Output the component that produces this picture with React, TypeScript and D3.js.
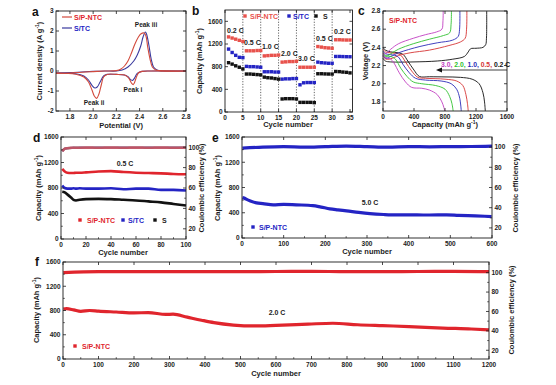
import React from 'react';
import * as d3 from 'd3';

// ---------- DATA ----------
// Panel a: CV curves [potential V, current A/g]
const cvNtcCathodic: [number, number][] = [[2.8,0],[2.5,0],[2.42,-0.02],[2.39,-0.1],[2.37,-0.35],[2.355,-0.6],[2.345,-0.68],[2.33,-0.6],[2.31,-0.38],[2.28,-0.22],[2.2,-0.17],[2.12,-0.17],[2.09,-0.3],[2.07,-0.7],[2.05,-1.15],[2.03,-1.37],[2.01,-1.25],[1.99,-0.95],[1.96,-0.55],[1.92,-0.3],[1.85,-0.16],[1.68,-0.1]];
const cvNtcAnodic: [number, number][] = [[1.68,-0.12],[1.8,-0.1],[1.9,-0.06],[2.0,-0.03],[2.1,0],[2.2,0.02],[2.24,0.1],[2.27,0.25],[2.3,0.5],[2.33,0.9],[2.36,1.35],[2.39,1.7],[2.41,1.85],[2.44,1.9],[2.455,1.75],[2.47,1.2],[2.49,0.6],[2.51,0.2],[2.54,0.05],[2.6,0],[2.8,0]];
const cvTcCathodic: [number, number][] = [[2.8,0],[2.5,0],[2.42,-0.02],[2.38,-0.12],[2.36,-0.32],[2.34,-0.47],[2.32,-0.42],[2.3,-0.28],[2.27,-0.2],[2.2,-0.17],[2.12,-0.17],[2.09,-0.25],[2.06,-0.55],[2.035,-0.8],[2.015,-0.85],[1.99,-0.72],[1.96,-0.45],[1.92,-0.25],[1.85,-0.14],[1.68,-0.1]];
const cvTcAnodic: [number, number][] = [[1.68,-0.1],[1.8,-0.08],[1.9,-0.05],[2.0,-0.02],[2.1,0],[2.2,0],[2.25,0.05],[2.3,0.2],[2.35,0.5],[2.38,0.8],[2.41,1.25],[2.43,1.7],[2.45,1.95],[2.46,1.85],[2.48,1.3],[2.5,0.6],[2.52,0.2],[2.55,0.05],[2.6,0],[2.8,0]];

// Panel b: rate capability, cycles 1..35
const bNtc = [1325,1305,1285,1265,1245, 1080,1080,1080,1085,1085, 990,995,1000,1000,1005, 880,885,890,890,895, 790,790,790,790,790, 1155,1145,1135,1130,1125, 1275,1275,1272,1270,1270];
const bTc = [1110,1050,1000,965,960, 805,800,800,795,790, 710,710,710,705,705, 580,585,585,590,590, 480,515,520,520,520, 880,870,865,860,860, 980,980,978,976,975];
const bS = [870,845,815,790,760, 670,670,665,660,655, 615,605,600,590,580, 230,235,235,235,230, 170,170,170,170,165, 675,675,672,670,670, 715,712,705,700,690];
const bRates = ['0.2 C','0.5 C','1.0 C','2.0 C','3.0 C','0.5 C','0.2 C'];

// Panel c: galvanostatic profiles [capacity, voltage]
const cDis02: [number, number][] = [[0,2.4],[30,2.37],[100,2.35],[200,2.34],[262,2.32],[320,2.25],[400,2.15],[470,2.08],[600,2.077],[800,2.075],[1000,2.07],[1150,2.05],[1240,2.0],[1290,1.9],[1310,1.8],[1320,1.7]];
const cDis05: [number, number][] = [[0,2.38],[30,2.35],[100,2.34],[220,2.32],[290,2.24],[370,2.14],[450,2.07],[550,2.06],[800,2.05],[950,2.03],[1030,1.98],[1070,1.88],[1090,1.78],[1100,1.7]];
const cDis10: [number, number][] = [[0,2.36],[30,2.33],[100,2.32],[190,2.3],[260,2.21],[340,2.12],[420,2.06],[550,2.04],[750,2.03],[880,2.0],[950,1.94],[990,1.84],[1010,1.7]];
const cDis20: [number, number][] = [[0,2.34],[30,2.31],[100,2.3],[160,2.27],[230,2.17],[310,2.08],[390,2.02],[500,2.0],[680,1.98],[800,1.94],[860,1.86],[890,1.78],[905,1.7]];
const cDis30: [number, number][] = [[0,2.33],[30,2.29],[100,2.27],[140,2.23],[210,2.12],[290,2.02],[370,1.96],[500,1.95],[600,1.93],[700,1.88],[760,1.8],[785,1.74],[798,1.7]];
const cChg02: [number, number][] = [[0,2.28],[30,2.25],[100,2.24],[400,2.24],[700,2.25],[900,2.27],[1050,2.3],[1100,2.35],[1130,2.385],[1200,2.39],[1290,2.4],[1325,2.43],[1335,2.5],[1338,2.8]];
const cChg05: [number, number][] = [[0,2.3],[40,2.27],[120,2.28],[200,2.31],[350,2.34],[600,2.37],[850,2.42],[1000,2.46],[1060,2.5],[1078,2.6],[1082,2.8]];
const cChg10: [number, number][] = [[0,2.31],[40,2.28],[100,2.3],[200,2.34],[477,2.41],[700,2.45],[900,2.48],[970,2.52],[988,2.6],[992,2.8]];
const cChg20: [number, number][] = [[0,2.32],[40,2.3],[100,2.33],[200,2.38],[391,2.44],[600,2.49],[780,2.53],[860,2.56],[878,2.65],[883,2.8]];
const cChg30: [number, number][] = [[0,2.34],[30,2.33],[100,2.38],[200,2.44],[391,2.5],[550,2.54],[692,2.57],[760,2.6],[773,2.68],[777,2.8]];

// Panel d: 0.5 C cycling
const dCycles = [1, 3, 5, 8, 10, 12, 15, 20, 30, 40, 50, 60, 70, 80, 90, 100];
const dNtc = [1100, 1060, 1040, 1035, 1035, 1040, 1040, 1045, 1060, 1065, 1050, 1040, 1035, 1030, 1020, 1015];
const dTc = [840, 800, 790, 790, 795, 790, 795, 790, 790, 795, 780, 790, 790, 770, 770, 760];
const dS = [740, 730, 700, 650, 615, 605, 615, 625, 630, 625, 615, 605, 590, 575, 550, 525];
const dCE = [96, 98.5, 99, 99.3, 99.5, 99.4, 99.5, 99.6, 99.5, 99.6, 99.5, 99.6, 99.5, 99.6, 99.5, 99.6];

// Panel e: 5.0 C cycling
const eCycles = [1, 5, 10, 20, 35, 50, 75, 100, 130, 170, 190, 211, 230, 251, 280, 307, 340, 371, 420, 450, 491, 520, 560, 599];
const eCap = [640, 632, 615, 586, 556, 545, 525, 534, 526, 514, 490, 462, 446, 430, 405, 386, 372, 365, 365, 364, 366, 358, 350, 340];
const eCECycles = [1, 50, 100, 150, 200, 250, 300, 350, 400, 450, 500, 550, 600];
const eCE = [99, 100, 100.5, 100, 100.5, 101, 100.5, 100, 100.5, 100.3, 100.5, 100.6, 101];

// Panel f: 2.0 C cycling
const fCycles = [1, 10, 30, 50, 75, 100, 150, 200, 240, 290, 310, 350, 390, 425, 480, 540, 600, 690, 760, 830, 900, 975, 1070, 1150, 1200];
const fCap = [825, 830, 810, 785, 800, 790, 775, 760, 765, 735, 740, 690, 640, 600, 560, 545, 555, 575, 590, 565, 550, 535, 510, 495, 480];
const fCECycles = [1, 100, 200, 300, 400, 500, 600, 700, 800, 900, 1000, 1100, 1200];
const fCE = [100, 101, 101, 101, 101, 101, 101.2, 101.4, 101, 101, 101.2, 101.3, 101];

// ---------- STYLE ----------
const FONT = '"Liberation Sans", Arial, Helvetica, sans-serif';
const INK = '#1c1c1c';
const RED = '#e0252d';
const BLUE = '#2424c4';
const BLACK = '#121212';
const CV_RED = '#d24a3c';
const CV_BLUE = '#3a3a9e';
const C_RED = '#d63434';
const C_BLUE = '#2b2bb8';
const C_GREEN = '#2fc12f';
const C_MAG = '#c23ec2';

type Scale = d3.ScaleLinear<number, number>;

function Box({ xs, ys }: { xs: Scale; ys: Scale }) {
  const [x0, x1] = xs.range();
  const [y0, y1] = ys.range();
  return <rect x={x0} y={Math.min(y0, y1)} width={x1 - x0} height={Math.abs(y0 - y1)} fill="none" stroke={INK} strokeWidth={0.9} />;
}

function XAxis({ xs, ys, ticks, minor = [], fmt = (v: number) => String(v), top = true }: { xs: Scale; ys: Scale; ticks: number[]; minor?: number[]; fmt?: (v: number) => string; top?: boolean }) {
  const yb = ys.range()[0];
  const yt = ys.range()[1];
  return (
    <g>
      {ticks.map((t, i) => (
        <g key={'t' + i}>
          <line x1={xs(t)} x2={xs(t)} y1={yb} y2={yb - 3} stroke={INK} strokeWidth={0.8} />
          {top && <line x1={xs(t)} x2={xs(t)} y1={yt} y2={yt + 3} stroke={INK} strokeWidth={0.8} />}
          <text x={xs(t)} y={yb + 8} fontSize={6.5} fontWeight="bold" textAnchor="middle" fill={INK} fontFamily={FONT}>{fmt(t)}</text>
        </g>
      ))}
      {minor.map((t, i) => (
        <line key={'m' + i} x1={xs(t)} x2={xs(t)} y1={yb} y2={yb - 1.8} stroke={INK} strokeWidth={0.7} />
      ))}
    </g>
  );
}

function YAxis({ xs, ys, ticks, minor = [], fmt = (v: number) => String(v), side = 'left', mirror = true }: { xs: Scale; ys: Scale; ticks: number[]; minor?: number[]; fmt?: (v: number) => string; side?: 'left' | 'right'; mirror?: boolean }) {
  const xl = xs.range()[0];
  const xr = xs.range()[1];
  const xa = side === 'left' ? xl : xr;
  const dir = side === 'left' ? 1 : -1;
  return (
    <g>
      {ticks.map((t, i) => (
        <g key={'t' + i}>
          <line x1={xa} x2={xa + dir * 3} y1={ys(t)} y2={ys(t)} stroke={INK} strokeWidth={0.8} />
          {mirror && <line x1={xr} x2={xr - 3} y1={ys(t)} y2={ys(t)} stroke={INK} strokeWidth={0.8} />}
          <text x={xa - dir * 2.5} y={ys(t) + 2.3} fontSize={6.5} fontWeight="bold" textAnchor={side === 'left' ? 'end' : 'start'} fill={INK} fontFamily={FONT}>{fmt(t)}</text>
        </g>
      ))}
      {minor.map((t, i) => (
        <line key={'m' + i} x1={xa} x2={xa + dir * 1.8} y1={ys(t)} y2={ys(t)} stroke={INK} strokeWidth={0.7} />
      ))}
    </g>
  );
}

function T({ x, y, children, size = 7.5, anchor = 'middle', rot = 0, fill = INK }: any) {
  return (
    <text transform={`translate(${x},${y}) rotate(${rot})`} fontSize={size} fontWeight="bold" textAnchor={anchor} fill={fill} fontFamily={FONT}>{children}</text>
  );
}

function CapTitle({ x, y, rot = -90 }: { x: number; y: number; rot?: number }) {
  return (
    <T x={x} y={y} rot={rot}>
      Capacity (mAh g<tspan dy={-3} fontSize={5}>-1</tspan><tspan dy={3}>)</tspan>
    </T>
  );
}

function Letter({ x, y, c }: { x: number; y: number; c: string }) {
  return <text x={x} y={y} fontSize={12} fontWeight="bold" fill="#111" fontFamily={FONT}>{c}</text>;
}

function Square({ x, y, fill, s = 3.4 }: { x: number; y: number; fill: string; s?: number }) {
  return <rect x={x - s / 2} y={y - s / 2} width={s} height={s} fill={fill} />;
}

const range = (a: number, b: number, s: number) => d3.range(a, b + s / 2, s);

export default function App() {
  // Panel a
  const ax = d3.scaleLinear().domain([1.68, 2.8]).range([56, 186]);
  const ay = d3.scaleLinear().domain([-2, 3]).range([111, 11]);
  const cvLine = d3.line<[number, number]>().x(d => ax(d[0])).y(d => ay(d[1])).curve(d3.curveCatmullRom.alpha(0.5));

  // Panel b
  const bx = d3.scaleLinear().domain([0, 35.7]).range([225, 352.5]);
  const by = d3.scaleLinear().domain([0, 1800]).range([112, 10]);

  // Panel c
  const cx = d3.scaleLinear().domain([0, 1600]).range([383, 507]);
  const cy = d3.scaleLinear().domain([1.7, 2.8]).range([111, 11]);
  const cLine = d3.line<[number, number]>().x(d => cx(d[0])).y(d => cy(d[1])).curve(d3.curveCatmullRom.alpha(0.5));
  const cCurves: [[number, number][], [number, number][], string][] = [
    [cDis02, cChg02, BLACK], [cDis05, cChg05, C_RED], [cDis10, cChg10, C_BLUE], [cDis20, cChg20, C_GREEN], [cDis30, cChg30, C_MAG],
  ];

  // Panel d
  const dx = d3.scaleLinear().domain([0, 100]).range([61, 186]);
  const dy = d3.scaleLinear().domain([0, 1600]).range([239, 137]);
  const dyR = d3.scaleLinear().domain([10, 110]).range([239, 137]);
  const dLine = (ys: number[], yscale: Scale) => d3.line<number>().x((_, i) => dx(dCycles[i])).y(v => yscale(v)).curve(d3.curveMonotoneX)(ys) || '';

  // Panel e
  const ex = d3.scaleLinear().domain([0, 600]).range([242, 492]);
  const ey = d3.scaleLinear().domain([0, 1600]).range([238, 137]);
  const eyR = d3.scaleLinear().domain([10, 110]).range([238, 137]);
  const eCapPath = d3.line<number>().x((_, i) => ex(eCycles[i])).y(v => ey(v)).curve(d3.curveMonotoneX)(eCap) || '';
  const eCEPath = d3.line<number>().x((_, i) => ex(eCECycles[i])).y(v => eyR(v)).curve(d3.curveMonotoneX)(eCE) || '';

  // Panel f
  const fx = d3.scaleLinear().domain([0, 1200]).range([63, 489]);
  const fy = d3.scaleLinear().domain([0, 1600]).range([359, 262]);
  const fyR = d3.scaleLinear().domain([11, 111]).range([359, 262]);
  const fCapPath = d3.line<number>().x((_, i) => fx(fCycles[i])).y(v => fy(v)).curve(d3.curveMonotoneX)(fCap) || '';
  const fCEPath = d3.line<number>().x((_, i) => fx(fCECycles[i])).y(v => fyR(v)).curve(d3.curveMonotoneX)(fCE) || '';

  const rateLabelPos: [number, number][] = [[227, 33], [244, 45], [262, 49], [281, 56], [298, 61], [316, 41], [334, 34]];

  return (
    <svg width={556} height={385} viewBox="0 0 556 385" style={{ position: 'absolute', left: 0, top: 0, background: '#fff' }} fontFamily={FONT}>
      <rect width={556} height={385} fill="#fff" />

      {/* ---------- a ---------- */}
      <Letter x={32} y={16} c="a" />
      <path d={cvLine(cvTcCathodic) || ''} fill="none" stroke={CV_BLUE} strokeWidth={1.1} />
      <path d={cvLine(cvTcAnodic) || ''} fill="none" stroke={CV_BLUE} strokeWidth={1.1} />
      <path d={cvLine(cvNtcCathodic) || ''} fill="none" stroke={CV_RED} strokeWidth={1.1} />
      <path d={cvLine(cvNtcAnodic) || ''} fill="none" stroke={CV_RED} strokeWidth={1.1} />
      <Box xs={ax} ys={ay} />
      <XAxis xs={ax} ys={ay} ticks={range(1.8, 2.8, 0.2)} fmt={v => v.toFixed(1)} />
      <YAxis xs={ax} ys={ay} ticks={range(-2, 3, 1)} />
      <line x1={62} x2={72} y1={17} y2={17} stroke={CV_RED} strokeWidth={1.2} />
      <T x={74} y={19.5} size={7} anchor="start" fill={RED}>S/P-NTC</T>
      <line x1={62} x2={72} y1={28} y2={28} stroke={CV_BLUE} strokeWidth={1.2} />
      <T x={74} y={30.5} size={7} anchor="start" fill={BLUE}>S/TC</T>
      <T x={146} y={27} size={6.5}>Peak iii</T>
      <T x={133} y={92} size={6.5}>Peak i</T>
      <T x={94} y={105} size={6.5}>Peak ii</T>
      <T x={121} y={128}>Potential (V)</T>
      <T x={42} y={61} rot={-90}>Current density (A g<tspan dy={-3} fontSize={5}>-1</tspan><tspan dy={3}>)</tspan></T>

      {/* ---------- b ---------- */}
      <Letter x={192} y={15} c="b" />
      {range(5, 30, 5).map(v => (
        <line key={v} x1={bx(v)} x2={bx(v)} y1={by(0)} y2={by(1800)} stroke="#222" strokeWidth={0.7} strokeDasharray="1.2,1.5" />
      ))}
      {bNtc.map((v, i) => <Square key={'bn' + i} x={bx(i + 1)} y={by(v)} fill="#e8524c" />)}
      {bTc.map((v, i) => <Square key={'bt' + i} x={bx(i + 1)} y={by(v)} fill={BLUE} />)}
      {bS.map((v, i) => <Square key={'bs' + i} x={bx(i + 1)} y={by(v)} fill={BLACK} />)}
      <Box xs={bx} ys={by} />
      <XAxis xs={bx} ys={by} ticks={range(0, 35, 5)} />
      <YAxis xs={bx} ys={by} ticks={range(0, 1600, 400)} />
      <Square x={245} y={16} fill="#e8524c" />
      <T x={250} y={18.5} size={7} anchor="start" fill="#e8524c">S/P-NTC</T>
      <Square x={289} y={16} fill={BLUE} />
      <T x={293} y={18.5} size={7} anchor="start" fill={BLUE}>S/TC</T>
      <Square x={316} y={16} fill={BLACK} />
      <T x={323} y={18.5} size={7} anchor="start">S</T>
      {bRates.map((r, i) => (
        <T key={'r' + i} x={rateLabelPos[i][0]} y={rateLabelPos[i][1]} size={7} anchor="start">{r}</T>
      ))}
      <T x={288} y={127}>Cycle number</T>
      <CapTitle x={202} y={61} />

      {/* ---------- c ---------- */}
      <Letter x={358} y={15} c="c" />
      {cCurves.map(([dis, chg, col], i) => (
        <g key={'c' + i}>
          <path d={cLine(dis) || ''} fill="none" stroke={col} strokeWidth={0.9} />
          <path d={cLine(chg) || ''} fill="none" stroke={col} strokeWidth={0.9} />
        </g>
      ))}
      <Box xs={cx} ys={cy} />
      <XAxis xs={cx} ys={cy} ticks={range(0, 1600, 400)} />
      <YAxis xs={cx} ys={cy} ticks={range(1.8, 2.8, 0.2)} fmt={v => v.toFixed(1)} />
      <T x={389} y={23} size={7} anchor="start" fill={RED}>S/P-NTC</T>
      <text x={441} y={67} fontSize={6.8} fontWeight="bold" fontFamily={FONT}>
        <tspan fill={C_MAG}>3.0, </tspan>
        <tspan fill={C_GREEN}>2.0, </tspan>
        <tspan fill={C_BLUE}>1.0, </tspan>
        <tspan fill={C_RED}>0.5, </tspan>
        <tspan fill={BLACK}>0.2 C</tspan>
      </text>
      <line x1={441} x2={507} y1={70} y2={70} stroke={BLACK} strokeWidth={0.8} />
      <path d="M436,70 L442,67.5 L442,72.5 Z" fill={BLACK} />
      <CapTitle x={445} y={127} rot={0} />
      <T x={368} y={61} rot={-90}>Voltage (V)</T>

      {/* ---------- d ---------- */}
      <Letter x={33} y={142} c="d" />
      <path d={dLine(dCE, dyR)} fill="none" stroke={BLACK} strokeWidth={2.4} opacity={0.6} />
      <path d={dLine(dCE, dyR)} fill="none" stroke={BLUE} strokeWidth={2.2} opacity={0.4} />
      <path d={dLine(dCE, dyR)} fill="none" stroke="#e0555a" strokeWidth={2.6} opacity={0.75} />
      <path d={dLine(dS, dy)} fill="none" stroke={BLACK} strokeWidth={2.6} />
      <path d={dLine(dTc, dy)} fill="none" stroke={BLUE} strokeWidth={2.6} />
      <path d={dLine(dNtc, dy)} fill="none" stroke={RED} strokeWidth={2.6} />
      <Box xs={dx} ys={dy} />
      <XAxis xs={dx} ys={dy} ticks={range(0, 100, 20)} minor={range(10, 90, 20)} />
      <YAxis xs={dx} ys={dy} ticks={range(0, 1600, 400)} minor={range(200, 1400, 400)} mirror={false} />
      <YAxis xs={dx} ys={dyR} ticks={range(20, 100, 20)} minor={range(30, 90, 20)} side="right" mirror={false} />
      <T x={125} y={166} size={7}>0.5 C</T>
      <Square x={80} y={220} fill={RED} />
      <T x={87} y={222.5} size={7} anchor="start" fill={RED}>S/P-NTC</T>
      <Square x={123} y={220} fill={BLUE} />
      <T x={128} y={222.5} size={7} anchor="start" fill={BLUE}>S/TC</T>
      <Square x={155} y={220} fill={BLACK} />
      <T x={162} y={222.5} size={7} anchor="start">S</T>
      <T x={123} y={255}>Cycle number</T>
      <CapTitle x={41} y={188} />
      <T x={204} y={188} rot={-90}>Coulombic efficiency (%)</T>

      {/* ---------- e ---------- */}
      <Letter x={212} y={142} c="e" />
      <path d={eCEPath} fill="none" stroke={BLUE} strokeWidth={3.2} />
      <path d={eCapPath} fill="none" stroke={BLUE} strokeWidth={3.2} />
      <Box xs={ex} ys={ey} />
      <XAxis xs={ex} ys={ey} ticks={range(0, 600, 100)} minor={range(50, 550, 100)} />
      <YAxis xs={ex} ys={ey} ticks={range(0, 1600, 400)} minor={range(200, 1400, 400)} mirror={false} />
      <YAxis xs={ex} ys={eyR} ticks={range(20, 100, 20)} minor={range(30, 90, 20)} side="right" mirror={false} />
      <T x={370} y={205} size={7}>5.0 C</T>
      <Square x={253} y={227} fill={BLUE} />
      <T x={259} y={229.5} size={7} anchor="start" fill={BLUE}>S/P-NTC</T>
      <T x={367} y={254}>Cycle number</T>
      <CapTitle x={220} y={188} />
      <T x={518} y={188} rot={-90}>Coulombic efficiency (%)</T>

      {/* ---------- f ---------- */}
      <Letter x={35} y={266} c="f" />
      <path d={fCEPath} fill="none" stroke={RED} strokeWidth={3.2} />
      <path d={fCapPath} fill="none" stroke={RED} strokeWidth={3.2} />
      <Box xs={fx} ys={fy} />
      <XAxis xs={fx} ys={fy} ticks={range(0, 1200, 100)} minor={range(50, 1150, 100)} />
      <YAxis xs={fx} ys={fy} ticks={range(0, 1600, 400)} minor={range(200, 1400, 400)} mirror={false} />
      <YAxis xs={fx} ys={fyR} ticks={range(20, 100, 20)} minor={range(30, 90, 20)} side="right" mirror={false} />
      <T x={277} y={315} size={7}>2.0 C</T>
      <Square x={75} y={346} fill={RED} />
      <T x={82} y={348.5} size={7} anchor="start" fill={RED}>S/P-NTC</T>
      <T x={276} y={376}>Cycle number</T>
      <CapTitle x={39} y={310} />
      <T x={514} y={310} rot={-90}>Coulombic efficiency (%)</T>
    </svg>
  );
}
